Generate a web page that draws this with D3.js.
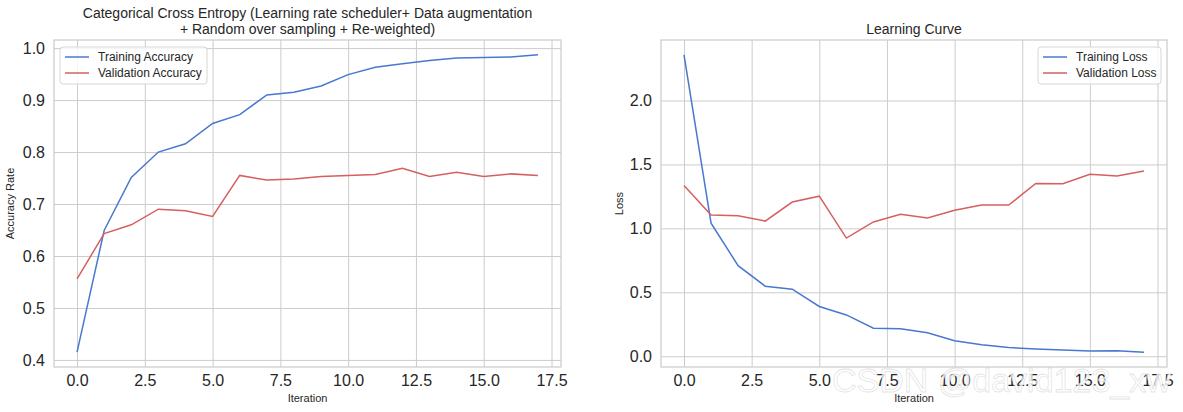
<!DOCTYPE html>
<html><head><meta charset="utf-8">
<script src="https://cdn.jsdelivr.net/npm/d3@7"></script>
<style>body{margin:0;background:#fff}svg{display:block}text{font-family:"Liberation Sans",Arial,sans-serif;fill:#262626}</style>
</head><body><svg id="c" width="1183" height="412"></svg>
<script>
const iterations = d3.range(0, 18);
const trainAcc = [0.415,0.649,0.751,0.800,0.816,0.855,0.872,0.910,0.915,0.927,0.949,0.963,0.970,0.976,0.981,0.982,0.983,0.987];
const valAcc   = [0.556,0.643,0.660,0.690,0.687,0.676,0.755,0.746,0.748,0.753,0.755,0.757,0.769,0.753,0.761,0.753,0.758,0.755];
const trainLoss = [2.357,1.041,0.708,0.548,0.524,0.389,0.323,0.219,0.214,0.183,0.121,0.090,0.068,0.056,0.048,0.041,0.043,0.032];
const valLoss   = [1.336,1.104,1.099,1.057,1.206,1.252,0.924,1.050,1.110,1.082,1.141,1.183,1.182,1.351,1.349,1.423,1.410,1.448];
const xTicks = [0,2.5,5,7.5,10,12.5,15,17.5];
const accTicks = [0.4,0.5,0.6,0.7,0.8,0.9,1.0];
const lossTicks = [0,0.5,1.0,1.5,2.0];
const colors = {train:"#4878d0", val:"#d65f5f"};

const svg = d3.select("#c");
function pad(ext){const s=ext[1]-ext[0];return [ext[0]-0.05*s, ext[1]+0.05*s];}

function panel(o){
  const g = svg.append("g");
  const x = d3.scaleLinear().domain(pad(d3.extent(iterations))).range([o.x0,o.x1]);
  const all = o.series.flatMap(s=>s.values);
  const y = d3.scaleLinear().domain(pad(d3.extent(all))).range([o.y1,o.y0]);
  g.append("g").attr("transform",`translate(0,${o.y1})`)
    .call(d3.axisBottom(x).tickValues(xTicks).tickSize(-(o.y1-o.y0)).tickPadding(8).tickFormat(d3.format(".1f")))
    .call(a=>{a.select(".domain").remove();a.selectAll("line").attr("stroke","#cccccc").attr("stroke-width",1);
      a.selectAll("text").attr("font-size",16).attr("dy","0.71em");});
  g.append("g").attr("transform",`translate(${o.x0},0)`)
    .call(d3.axisLeft(y).tickValues(o.yTicks).tickSize(-(o.x1-o.x0)).tickPadding(9).tickFormat(d3.format(".1f")))
    .call(a=>{a.select(".domain").remove();a.selectAll("line").attr("stroke","#cccccc").attr("stroke-width",1);
      a.selectAll("text").attr("font-size",16);});
  g.append("rect").attr("x",o.x0).attr("y",o.y0).attr("width",o.x1-o.x0).attr("height",o.y1-o.y0)
    .attr("fill","none").attr("stroke","#cccccc").attr("stroke-width",1.25);
  const line = d3.line().x((d,i)=>x(iterations[i])).y(d=>y(d));
  o.series.forEach(s=>{
    g.append("path").datum(s.values).attr("d",line).attr("fill","none").attr("stroke",s.color).attr("stroke-width",1.5);
  });
  o.title.forEach((t,i)=>g.append("text").attr("x",(o.x0+o.x1)/2).attr("y",o.titleY+i*16).attr("text-anchor","middle").attr("font-size",14).text(t));
  g.append("text").attr("x",(o.x0+o.x1)/2).attr("y",402).attr("text-anchor","middle").attr("font-size",11).text("Iteration");
  g.append("text").attr("transform",`translate(${o.ylabX},${(o.y0+o.y1)/2}) rotate(-90)`).attr("text-anchor","middle").attr("font-size",11).text(o.ylab);
  const L = g.append("g").attr("transform",`translate(${o.legX},${o.y0+7})`);
  L.append("rect").attr("width",o.legW).attr("height",37).attr("rx",3).attr("fill","#fff").attr("fill-opacity",0.8).attr("stroke","#d6d6d6");
  o.series.forEach((s,i)=>{
    L.append("line").attr("x1",5).attr("x2",29).attr("y1",10+i*16).attr("y2",10+i*16).attr("stroke",s.color).attr("stroke-width",1.5);
    L.append("text").attr("x",38).attr("y",10+i*16).attr("dy","0.35em").attr("font-size",12).text(s.name);
  });
}

panel({x0:54,x1:561,y0:40,y1:367,yTicks:accTicks,ylab:"Accuracy Rate",ylabX:14,
  title:["Categorical Cross Entropy (Learning rate scheduler+ Data augmentation","+ Random over sampling + Re-weighted)"],titleY:18,
  legX:60,legW:147,
  series:[{name:"Training Accuracy",values:trainAcc,color:colors.train},{name:"Validation Accuracy",values:valAcc,color:colors.val}]});
panel({x0:661,x1:1167,y0:40,y1:367,yTicks:lossTicks,ylab:"Loss",ylabX:623,
  title:["Learning Curve"],titleY:34,
  legX:1038,legW:123,
  series:[{name:"Training Loss",values:trainLoss,color:colors.train},{name:"Validation Loss",values:valLoss,color:colors.val}]});

svg.append("text").attr("x",832).attr("y",392).attr("font-size",34)
  .style("fill","#ffffff").style("fill-opacity",0.8).style("stroke","#c8c8c8").style("stroke-opacity",0.5).style("stroke-width",0.8)
  .text("CSDN @david123_xw");
</script></body></html>
